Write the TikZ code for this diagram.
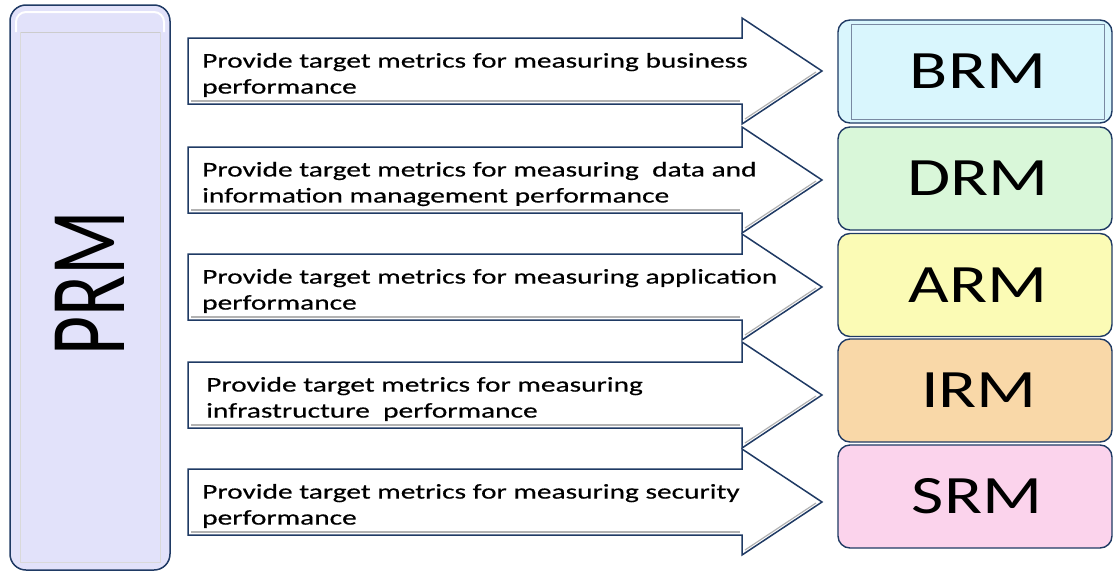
\documentclass[tikz,border=0pt]{standalone}
\usepackage{fontspec}
\setmainfont{Carlito}
\newfontfamily\widefont[FakeStretch=1.3]{Carlito}
\newfontfamily\textwidefont[FakeStretch=1.4,FakeBold=0.4]{Carlito}
\newfontfamily\narrowfont[FakeStretch=0.7]{Carlito}
\definecolor{navy}{HTML}{1F3A64}
\definecolor{prmfill}{HTML}{E2E2FA}
\definecolor{brmfill}{HTML}{D9F6FD}
\definecolor{drmfill}{HTML}{D9F7D9}
\definecolor{armfill}{HTML}{FBFBB5}
\definecolor{irmfill}{HTML}{F9D8A8}
\definecolor{srmfill}{HTML}{FBD3EC}
\tikzset{
  refbox/.style={draw=navy, line width=1.4pt, rounded corners=12pt, minimum width=274pt, minimum height=103pt, inner sep=0pt},
  reflabel/.style={font=\widefont\fontsize{54}{60}\selectfont, text=black},
  blockarrow/.style={draw=navy, line width=1.5pt, fill=white, line join=miter},
  arrowshade/.style={draw=black!30, line width=1.2pt},
  arrowtext/.style={anchor=west, align=left, inner sep=0pt, font=\textwidefont\fontsize{21}{26}\selectfont},
}
\begin{document}
\begin{tikzpicture}[x=1pt,y=-1pt]
\useasboundingbox (0,0) rectangle (1114,573);
% PRM column
\node (prm) [draw=navy, line width=1.5pt, fill=prmfill, rounded corners=16pt, minimum width=160pt, minimum height=565pt, inner sep=0pt] at (90,287.5) {};
\draw[white, line width=2pt, rounded corners=10pt] (16,32) -- (16,12) -- (164,12) -- (164,32);
\draw[black!20, line width=1pt] (20,32) -- (160,32);
\draw[black!15, line width=1pt] (20,32) -- (20,562) -- (160,562) -- (160,32);
\node (prmtext) [rotate=90, font=\narrowfont\fontsize{108}{120}\selectfont] at (90,283) {PRM};
% block arrows
\foreach \c/\nm in {71/a1,180/a2,287/a3,395/a4,502/a5}{
  \draw[blockarrow] (188,\c-33) -- (742,\c-33) -- (742,\c-53) -- (822,\c) -- (742,\c+53) -- (742,\c+33) -- (188,\c+33) -- cycle;
  \draw[arrowshade] (745,\c+48) -- (816,\c+1);
  \draw[arrowshade] (191,\c+30) -- (740,\c+30);
  \coordinate (\nm) at (202,\c+4);
}
\node[arrowtext] (t1) at (a1) {Provide target metrics for measuring business\\performance};
\node[arrowtext] (t2) at (a2) {Provide target metrics for measuring\ \ data and\\information management performance};
\node[arrowtext] (t3) at (a3) {Provide target metrics for measuring application\\performance};
\node[arrowtext] (t4) at ([xshift=4pt]a4) {Provide target metrics for measuring\\infrastructure\ \ performance};
\node[arrowtext] (t5) at (a5) {Provide target metrics for measuring security\\performance};
% reference models
\node (brm) [refbox, fill=brmfill] at (975,71.5) {};
\node (drm) [refbox, fill=drmfill] at (975,178.5) {};
\node (arm) [refbox, fill=armfill] at (975,285) {};
\node (irm) [refbox, fill=irmfill] at (975,390.5) {};
\node (srm) [refbox, fill=srmfill] at (975,496.5) {};
\draw[navy!60, line width=1pt] (851,24) rectangle (1104,119);
\node[reflabel] (brml) at ([xshift=3pt]brm) {BRM};
\node[reflabel] (drml) at ([xshift=3pt]drm) {DRM};
\node[reflabel] (arml) at ([xshift=3pt]arm) {ARM};
\node[reflabel] (irml) at ([xshift=4pt]irm) {IRM};
\node[reflabel] (srml) at ([xshift=2pt]srm) {SRM};
\end{tikzpicture}
\end{document}
